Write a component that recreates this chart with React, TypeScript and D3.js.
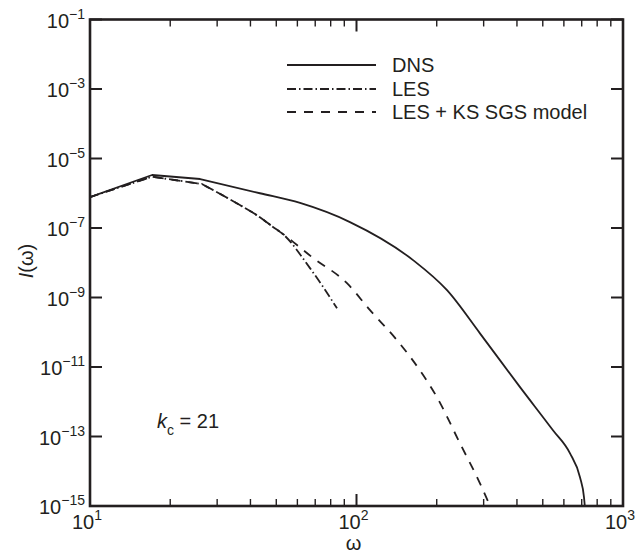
import React, { useEffect, useRef } from 'react';
import * as d3 from 'd3';

// spectra (omega, I(omega))
const omegaDNS = [10, 17.1, 25.9, 43.4, 61.4, 94.5, 163, 218.6, 290.6, 410.8, 546, 632, 690, 714, 719];
const energyDNS = [7.76e-7, 3.35e-6, 2.57e-6, 1.0e-6, 5.25e-7, 1.48e-7, 1.19e-8, 1.62e-9, 9.3e-11, 2.63e-12, 1.51e-13, 3.31e-14, 6.6e-15, 1.78e-15, 1.0e-15];

const omegaLES = [10, 17.1, 26.3, 36.5, 43.4, 48.6, 52.5, 66.9, 84.5];
const energyLES = [7.76e-7, 3.0e-6, 1.84e-6, 4.57e-7, 2.04e-7, 1.07e-7, 7.1e-8, 7.0e-9, 4.9e-10];

const omegaKS = [10, 17.1, 26.3, 36.5, 43.4, 48.6, 52.5, 59.8, 68.1, 92.1, 112.4, 141.9, 173, 200.4, 244.4, 290.6, 317];
const energyKS = [7.76e-7, 3.0e-6, 1.84e-6, 4.57e-7, 2.04e-7, 1.07e-7, 7.1e-8, 3.24e-8, 1.45e-8, 2.58e-9, 4.31e-10, 5.9e-11, 8.0e-12, 1.35e-12, 6.4e-14, 4.5e-15, 1.0e-15];

const xTickExps = [1, 2, 3];
const yTickExps = [-1, -3, -5, -7, -9, -11, -13, -15];
const legendLabels = ['DNS', 'LES', 'LES + KS SGS model'];
const dashes = [null, '9,3,1.5,3', '9,8'];

const App = () => {
    const svgRef = useRef<SVGSVGElement>(null);

    useEffect(() => {
        const svg = d3.select(svgRef.current);
        svg.selectAll('*').remove();

        const width = 637;
        const height = 553;
        const margin = { top: 19.5, right: 14, bottom: 47, left: 90 };
        const font = 'Liberation Sans, Arial, Helvetica, sans-serif';
        const ink = '#231f20';

        const x = d3.scaleLog().domain([10, 1000]).range([margin.left, width - margin.right]);
        const y = d3.scaleLog().domain([1e-15, 1e-1]).range([height - margin.bottom, margin.top]);
        const x0 = x.range()[0], x1 = x.range()[1];
        const y0 = y.range()[0], y1 = y.range()[1];

        // coarse low-omega samples are joined straight, the rest smoothly
        const straight = d3.line<[number, number]>()
            .x(d => x(d[0]))
            .y(d => y(d[1]));
        const smooth = d3.line<[number, number]>()
            .x(d => x(d[0]))
            .y(d => y(d[1]))
            .curve(d3.curveMonotoneX);

        const series = [
            { om: omegaDNS, e: energyDNS },
            { om: omegaLES, e: energyLES },
            { om: omegaKS, e: energyKS },
        ];

        // curves (dashed ones first so the solid sits on top)
        [2, 1, 0].forEach(i => {
            const s = series[i];
            const pts = s.om.map((o, j) => [o, s.e[j]] as [number, number]);
            const head = pts.slice(0, 3);
            const tail = pts.slice(2);
            const d = straight(head) + smooth(tail).replace(/^M[^CL]*/, 'L' + x(tail[0][0]) + ',' + y(tail[0][1]));
            svg.append('path')
                .attr('d', d)
                .attr('fill', 'none')
                .attr('stroke', ink)
                .attr('stroke-width', 1.8)
                .attr('stroke-linejoin', 'round')
                .attr('stroke-dasharray', dashes[i]);
        });

        // ticks, mirrored on both sides
        const minor: number[] = [];
        [10, 100].forEach(b => d3.range(2, 10).forEach(k => minor.push(b * k)));
        const tickG = svg.append('g').attr('stroke', ink);
        minor.forEach(v => {
            tickG.append('line').attr('x1', x(v)).attr('x2', x(v)).attr('y1', y0).attr('y2', y0 - 7).attr('stroke-width', 1.4);
            tickG.append('line').attr('x1', x(v)).attr('x2', x(v)).attr('y1', y1).attr('y2', y1 + 7).attr('stroke-width', 1.4);
        });
        xTickExps.forEach(e => {
            const v = Math.pow(10, e);
            tickG.append('line').attr('x1', x(v)).attr('x2', x(v)).attr('y1', y0).attr('y2', y0 - 12).attr('stroke-width', 2);
            tickG.append('line').attr('x1', x(v)).attr('x2', x(v)).attr('y1', y1).attr('y2', y1 + 12).attr('stroke-width', 2);
        });
        yTickExps.forEach(e => {
            const v = Math.pow(10, e);
            tickG.append('line').attr('x1', x0).attr('x2', x0 + 12).attr('y1', y(v)).attr('y2', y(v)).attr('stroke-width', 2);
            tickG.append('line').attr('x1', x1).attr('x2', x1 - 12).attr('y1', y(v)).attr('y2', y(v)).attr('stroke-width', 2);
        });

        // frame
        svg.append('rect')
            .attr('x', x0).attr('y', y1)
            .attr('width', x1 - x0).attr('height', y0 - y1)
            .attr('fill', 'none').attr('stroke', ink).attr('stroke-width', 2.6);

        const powLabel = (g: any, exp: number) => {
            g.append('tspan').text('10');
            g.append('tspan').attr('font-size', 14).attr('dy', -9)
                .text(exp < 0 ? '\u2212' + Math.abs(exp) : String(exp));
        };

        // y tick labels
        yTickExps.forEach(e => {
            const t = svg.append('text')
                .attr('x', 85).attr('y', y(Math.pow(10, e)) + 8)
                .attr('text-anchor', 'end')
                .attr('font-family', font).attr('font-size', 20).attr('fill', ink);
            powLabel(t, e);
        });

        // x tick labels
        xTickExps.forEach(e => {
            const t = svg.append('text')
                .attr('x', x(Math.pow(10, e)) - 3).attr('y', y0 + 23)
                .attr('text-anchor', 'middle')
                .attr('font-family', font).attr('font-size', 20).attr('fill', ink);
            powLabel(t, e);
        });

        // axis titles
        svg.append('text')
            .attr('x', x(100) - 3).attr('y', 550)
            .attr('text-anchor', 'middle')
            .attr('font-family', font).attr('font-size', 20).attr('fill', ink)
            .text('\u03c9');

        const yl = svg.append('text')
            .attr('transform', 'translate(33,261) rotate(-90)')
            .attr('text-anchor', 'middle')
            .attr('font-family', font).attr('font-size', 20).attr('fill', ink);
        yl.append('tspan').attr('font-style', 'italic').text('I');
        yl.append('tspan').text('(\u03c9)');

        // annotation
        const kc = svg.append('text')
            .attr('x', 157).attr('y', 428)
            .attr('font-family', font).attr('font-size', 20).attr('fill', ink);
        kc.append('tspan').attr('font-style', 'italic').text('k');
        kc.append('tspan').attr('font-size', 14).attr('dy', 7).text('c');
        kc.append('tspan').attr('dy', -7).text(' = 21');

        // legend
        const legendY = [65, 89, 112];
        legendLabels.forEach((lab, i) => {
            svg.append('line')
                .attr('x1', 287).attr('x2', 376)
                .attr('y1', legendY[i]).attr('y2', legendY[i])
                .attr('stroke', ink).attr('stroke-width', 1.8)
                .attr('stroke-dasharray', dashes[i]);
            svg.append('text')
                .attr('x', 392).attr('y', legendY[i] + 7)
                .attr('font-family', font).attr('font-size', 20).attr('fill', ink)
                .text(lab);
        });
    }, []);

    return (
        <svg ref={svgRef} width={637} height={553}
            style={{ position: 'absolute', left: 0, top: 0, background: '#fff' }} />
    );
};

export default App;
